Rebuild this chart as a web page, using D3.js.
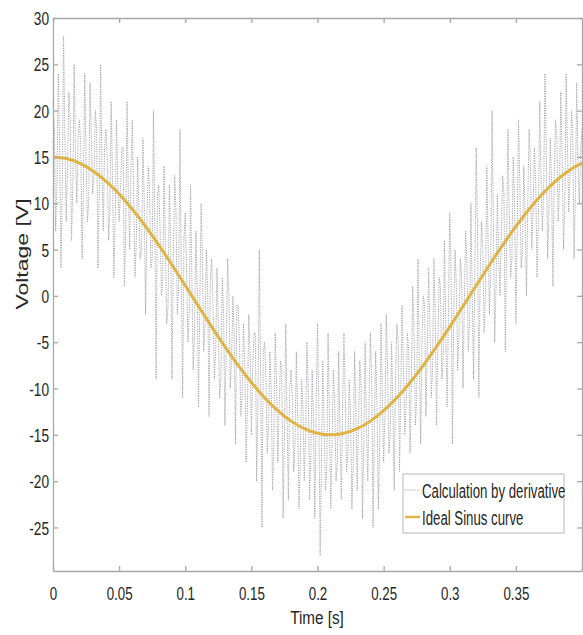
<!DOCTYPE html>
<html>
<head>
<meta charset="utf-8">
<script src="https://cdn.jsdelivr.net/npm/d3@7"></script>
<style>
  body { margin: 0; background: #fff; }
  text { font-family: "Liberation Sans", Arial, sans-serif; fill: #262626; }
</style>
</head>
<body>
<script>
// sample step of the measured signal (s)
let sampleDt = 0.002;

// "Calculation by derivative": spike samples, at 0, 2, 4 ... ms
let spikeValues = [
  21, 7, 24, 3, 28, 8, 22, 6, 25, 10,
  19, 4, 24, 8, 23, 11, 20, 3, 25, 7,
  18, 6, 21, 2, 19, 8, 16, 1, 21, 5,
  19, 2, 15, 4, 17, -2, 14, 3, 20, -9,
  12, 0, 14, -3, 12, -9, 13, -2, 18, -11,
  9, -5, 12, -8, 7, -12, 10, -6, 5, -13,
  4, -9, 3, -11, 2, -14, 4, -10, 0, -16,
  -1, -13, -3, -18, -2, -15, -4, -20, 5, -25,
  -5, -17, -6, -21, -4, -18, -7, -24, -3, -22,
  -8, -19, -6, -23, -9, -20, -5, -22, -8, -24,
  -3, -28, -7, -21, -4, -23, -8, -20, -6, -22,
  -4, -19, -9, -23, -6, -21, -7, -24, -5, -20,
  -4, -25, -6, -23, -3, -18, -2, -17, -5, -21,
  -3, -19, -1, -15, -4, -17, 1, -14, 4, -16,
  0, -13, 3, -11, 4, -14, 2, -9, 6, -12,
  9, -16, 5, -8, 4, -10, 7, -6, 10, -9,
  16, -11, 8, -4, 14, -2, 20, -5, 11, 0,
  13, -6, 18, 2, 15, -3, 19, 3, 14, 0,
  18, 5, 16, 2, 21, 7, 24, 4, 17, 1,
  19, 8, 22, 5, 24, 9, 20, 4, 23, 10,
  18
];

// in-between samples (1, 3, 5 ... ms), these stay inside the dense core band
let midValues = [
  18, 12, 16, 11, 17, 14, 19, 12, 15, 17,
  16, 12, 15, 10, 17, 13, 18, 11, 14, 16,
  15, 9, 13, 8, 12, 11, 16, 7, 11, 14,
  11, 6, 9, 5, 10, 8, 12, 4, 8, 11,
  7, 2, 5, -1, 6, 4, 9, 1, 3, 6,
  3, -2, 2, -4, 1, -1, 4, -3, 0, 2,
  -1, -6, -3, -9, -2, -5, 0, -7, -4, -1,
  -5, -11, -7, -12, -6, -8, -4, -11, -9, -6,
  -9, -14, -10, -16, -9, -12, -8, -15, -13, -10,
  -11, -16, -13, -18, -12, -15, -10, -17, -14, -12,
  -12, -18, -14, -19, -13, -16, -11, -18, -15, -12,
  -11, -17, -13, -18, -12, -14, -10, -16, -14, -11,
  -9, -14, -12, -16, -10, -13, -8, -15, -12, -9,
  -5, -10, -8, -12, -6, -9, -4, -11, -7, -5,
  -1, -6, -3, -8, -2, -5, 1, -7, -4, -2,
  3, -2, 1, -4, 2, -1, 4, -3, 0, 3,
  7, 2, 5, 0, 6, 3, 8, 1, 4, 7,
  11, 6, 9, 4, 10, 7, 12, 5, 9, 10,
  14, 9, 12, 8, 13, 11, 16, 9, 12, 13,
  17, 12, 15, 10, 16, 13, 18, 11, 14, 16
];

// "Ideal Sinus curve" read every 10 ms
let sineTimes = [0, 0.01, 0.02, 0.03, 0.04, 0.05, 0.06, 0.07, 0.08, 0.09,
  0.1, 0.11, 0.12, 0.13, 0.14, 0.15, 0.16, 0.17, 0.18, 0.19,
  0.2, 0.21, 0.22, 0.23, 0.24, 0.25, 0.26, 0.27, 0.28, 0.29,
  0.3, 0.31, 0.32, 0.33, 0.34, 0.35, 0.36, 0.37, 0.38, 0.39, 0.4];
let sineValues = [15, 14.83, 14.33, 13.52, 12.39, 11, 9.35, 7.5, 5.48, 3.34,
  1.12, -1.12, -3.34, -5.48, -7.5, -9.35, -11, -12.39, -13.52, -14.33,
  -14.83, -15, -14.83, -14.33, -13.52, -12.39, -11, -9.35, -7.5, -5.48,
  -3.34, -1.12, 1.12, 3.34, 5.48, 7.5, 9.35, 11, 12.39, 13.52, 14.33];

let xTicks = [0, 0.05, 0.1, 0.15, 0.2, 0.25, 0.3, 0.35, 0.4];
let xTickLabels = ["0", "0.05", "0.1", "0.15", "0.2", "0.25", "0.3", "0.35", ""];
let yTicks = [-25, -20, -15, -10, -5, 0, 5, 10, 15, 20, 25, 30];

let legendNames = ["Calculation by derivative", "Ideal Sinus curve"];

let plotLeft = 53, plotRight = 582, plotTop = 18, plotBottom = 571;

let svg = d3.select("body").append("svg")
  .attr("width", 583)
  .attr("height", 635);

let xScale = d3.scaleLinear().domain([0, 0.4]).range([plotLeft, plotRight]);
let yScale = d3.scaleLinear().domain([-29.7, 30]).range([plotBottom, plotTop]);

// data lines
let noiseData = spikeValues.map((v, i) => [i * sampleDt, v])
  .concat(midValues.map((v, i) => [i * sampleDt + sampleDt / 2, v]));
noiseData = d3.sort(noiseData, d => d[0]);
let sineData = sineTimes.map((t, i) => [t, sineValues[i]]);

let line = d3.line()
  .x(d => xScale(d[0]))
  .y(d => yScale(d[1]));

let noiseColor = "#a4a4ac";
let sineColor = "#e0b444";

svg.append("path")
  .datum(noiseData)
  .attr("d", line)
  .attr("fill", "none")
  .attr("stroke", noiseColor)
  .attr("stroke-width", 1)
  .attr("stroke-dasharray", "1.2,1.2");

svg.append("path")
  .datum(sineData)
  .attr("d", line.curve(d3.curveNatural))
  .attr("fill", "none")
  .attr("stroke", sineColor)
  .attr("stroke-width", 3);

// axes (box with inward ticks)
let axisColor = "#a8a8a8";

let xAxis = d3.axisBottom(xScale).tickValues(xTicks)
  .tickFormat((d, i) => xTickLabels[i]).tickSize(-5).tickSizeOuter(0).tickPadding(0);
let gx = svg.append("g").attr("transform", "translate(0," + plotBottom + ")").call(xAxis);

let yAxis = d3.axisLeft(yScale).tickValues(yTicks)
  .tickFormat(d => String(d)).tickSize(-5).tickSizeOuter(0);
let gy = svg.append("g").attr("transform", "translate(" + plotLeft + ",0)").call(yAxis);

svg.append("g").attr("transform", "translate(0," + plotTop + ")")
  .call(d3.axisTop(xScale).tickValues(xTicks).tickFormat("").tickSize(-5).tickSizeOuter(0));
svg.append("g").attr("transform", "translate(" + plotRight + ",0)")
  .call(d3.axisRight(yScale).tickValues(yTicks).tickFormat("").tickSize(-5).tickSizeOuter(0));

svg.selectAll(".domain, .tick line")
  .attr("stroke", axisColor)
  .attr("stroke-width", 1.3);

// condensed looking labels
let sx = 0.74;
gx.selectAll(".tick text")
  .attr("font-size", 18)
  .attr("fill", "#262626")
  .attr("y", 0)
  .attr("dy", 0)
  .attr("transform", "translate(0,29) scale(" + sx + ",1)");

gy.selectAll(".tick text")
  .attr("font-size", 18.5)
  .attr("fill", "#262626")
  .attr("x", 0)
  .attr("dy", "0.36em")
  .attr("transform", "translate(-4,0) scale(" + sx + ",1)");

svg.append("text")
  .attr("transform", "translate(317,624) scale(0.87,1)")
  .attr("text-anchor", "middle")
  .attr("font-size", 17.5)
  .text("Time [s]");

svg.append("text")
  .attr("transform", "translate(28,254) rotate(-90) scale(1,0.73)")
  .attr("text-anchor", "middle")
  .attr("font-size", 23)
  .text("Voltage [V]");

// legend
let legend = svg.append("g");
legend.append("rect")
  .attr("x", 403).attr("y", 474)
  .attr("width", 161).attr("height", 59)
  .attr("fill", "#fff")
  .attr("stroke", "#c4c4c4")
  .attr("stroke-width", 1.2);

let legendY = [490, 517];
legend.append("line")
  .attr("x1", 405).attr("x2", 420)
  .attr("y1", legendY[0]).attr("y2", legendY[0])
  .attr("stroke", noiseColor).attr("stroke-dasharray", "1.2,1.2");
legend.append("line")
  .attr("x1", 405).attr("x2", 420)
  .attr("y1", legendY[1]).attr("y2", legendY[1])
  .attr("stroke", sineColor).attr("stroke-width", 2.5);

legendNames.forEach((name, i) => {
  legend.append("text")
    .attr("transform", "translate(422," + (legendY[i] + 8) + ") scale(0.63,1)")
    .attr("font-size", 21)
    .text(name);
});
</script>
</body>
</html>
